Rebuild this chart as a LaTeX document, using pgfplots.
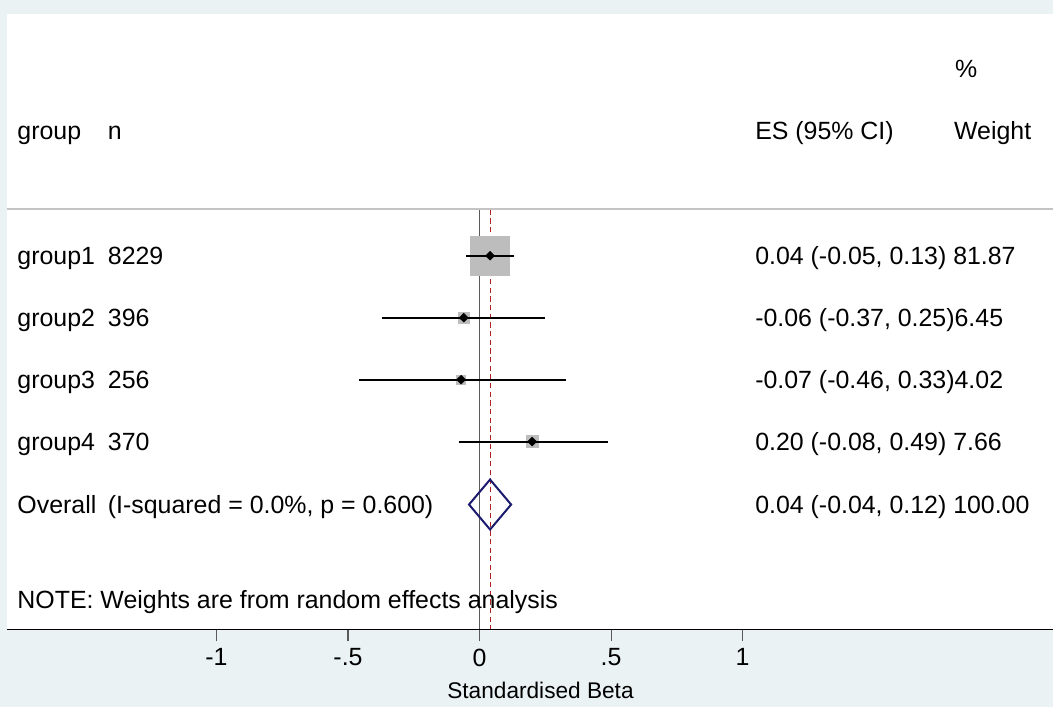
\documentclass[border=0pt]{standalone}
\usepackage{pgfplots}
\pgfplotsset{compat=1.18}
\usepackage{fontspec}
\setmainfont{Liberation Sans}
\definecolor{bgblue}{HTML}{EAF2F3}
\definecolor{boxgray}{HTML}{BDBDBD}
\definecolor{linegray}{HTML}{C4C4C4}
\definecolor{zerogray}{HTML}{5A5A5A}
\definecolor{navyd}{HTML}{1A1A6E}
\definecolor{dred}{HTML}{B22222}
\newcommand\mainfs{\fontsize{18.7}{22}\selectfont}
\tikzset{txt/.style={anchor=base west, inner sep=0pt, outer sep=0pt, font=\mainfs}}
\begin{document}
\begin{tikzpicture}
\fill[bgblue] (0pt,0pt) rectangle (790.5pt,-531pt);
\begin{axis}[
  at={(5.25pt,-10.5pt)}, anchor=north west,
  scale only axis, width=785.25pt, height=462pt,
  xmin=-1.7964, xmax=2.1800, ymin=14, ymax=630, y dir=reverse,
  axis x line*=bottom, axis y line=none,
  x axis line style={-, black, line width=1.1pt},
  axis background/.style={fill=white},
  xtick={-1,-0.5,0,0.5,1}, xticklabels={-1,-.5,0,.5,1},
  tick align=outside, major tick length=9pt,
  xtick style={zerogray, line width=0.8pt},
  xticklabel style={font=\mainfs, yshift=-2pt},
  clip=false, clip marker paths=true,
]
% header separator
\addplot[linegray, line width=1.5pt] coordinates {(-1.7964,209) (2.1800,209)};
% reference line at 0 and overall estimate
\addplot[zerogray, line width=1.3pt] coordinates {(0,210) (0,630)};
\addplot[dred, line width=0.8pt, dash pattern=on 4pt off 2.5pt] coordinates {(0.04,210) (0.04,630)};
% weight boxes
\addplot[only marks, mark=square*, mark size=14.6pt, color=boxgray] coordinates {(0.04,256)};
\addplot[only marks, mark=square*, mark size=4.1pt, color=boxgray] coordinates {(-0.06,318)};
\addplot[only marks, mark=square*, mark size=3.3pt, color=boxgray] coordinates {(-0.07,380)};
\addplot[only marks, mark=square*, mark size=4.5pt, color=boxgray] coordinates {(0.20,442)};
% confidence intervals
\addplot[black, line width=1.6pt] coordinates {(-0.05,256) (0.13,256)};
\addplot[black, line width=1.6pt] coordinates {(-0.37,318) (0.25,318)};
\addplot[black, line width=1.6pt] coordinates {(-0.46,380) (0.33,380)};
\addplot[black, line width=1.6pt] coordinates {(-0.08,442) (0.49,442)};
% point estimates
\addplot[only marks, black, mark=diamond*, mark size=3.3pt, mark options={xscale=1.35}] coordinates {(0.04,256) (-0.06,318) (-0.07,380) (0.20,442)};
% overall diamond
\addplot[navyd, line width=1.5pt] coordinates {(-0.04,505) (0.04,480) (0.12,505) (0.04,530) (-0.04,505)} -- cycle;
% text columns
\node[txt] at (axis cs:1.8078,78) {\%};
\node[txt] at (axis cs:-1.7566,140) {group};
\node[txt] at (axis cs:-1.4128,140) {n};
\node[txt] at (axis cs:1.0482,140) {ES (95\% CI)};
\node[txt] at (axis cs:1.8040,140) {Weight};
\node[txt] at (axis cs:-1.7566,265) {group1};
\node[txt] at (axis cs:-1.4128,265) {8229};
\node[txt] at (axis cs:1.0482,265) {0.04 (-0.05, 0.13) 81.87};
\node[txt] at (axis cs:-1.7566,327) {group2};
\node[txt] at (axis cs:-1.4128,327) {396};
\node[txt] at (axis cs:1.0482,327) {-0.06 (-0.37, 0.25)6.45};
\node[txt] at (axis cs:-1.7566,389) {group3};
\node[txt] at (axis cs:-1.4128,389) {256};
\node[txt] at (axis cs:1.0482,389) {-0.07 (-0.46, 0.33)4.02};
\node[txt] at (axis cs:-1.7566,451) {group4};
\node[txt] at (axis cs:-1.4128,451) {370};
\node[txt] at (axis cs:1.0482,451) {0.20 (-0.08, 0.49) 7.66};
\node[txt] at (axis cs:-1.7566,514) {Overall};
\node[txt] at (axis cs:-1.4128,514) {(I-squared = 0.0\%, p = 0.600)};
\node[txt] at (axis cs:1.0482,514) {0.04 (-0.04, 0.12) 100.00};
\node[txt] at (axis cs:-1.7566,609) {NOTE: Weights are from random effects analysis};
% axis title
\node[anchor=base, inner sep=0pt, font=\fontsize{17}{20}\selectfont] at (axis cs:0.2317,699) {Standardised Beta};
\end{axis}
\end{tikzpicture}
\end{document}
